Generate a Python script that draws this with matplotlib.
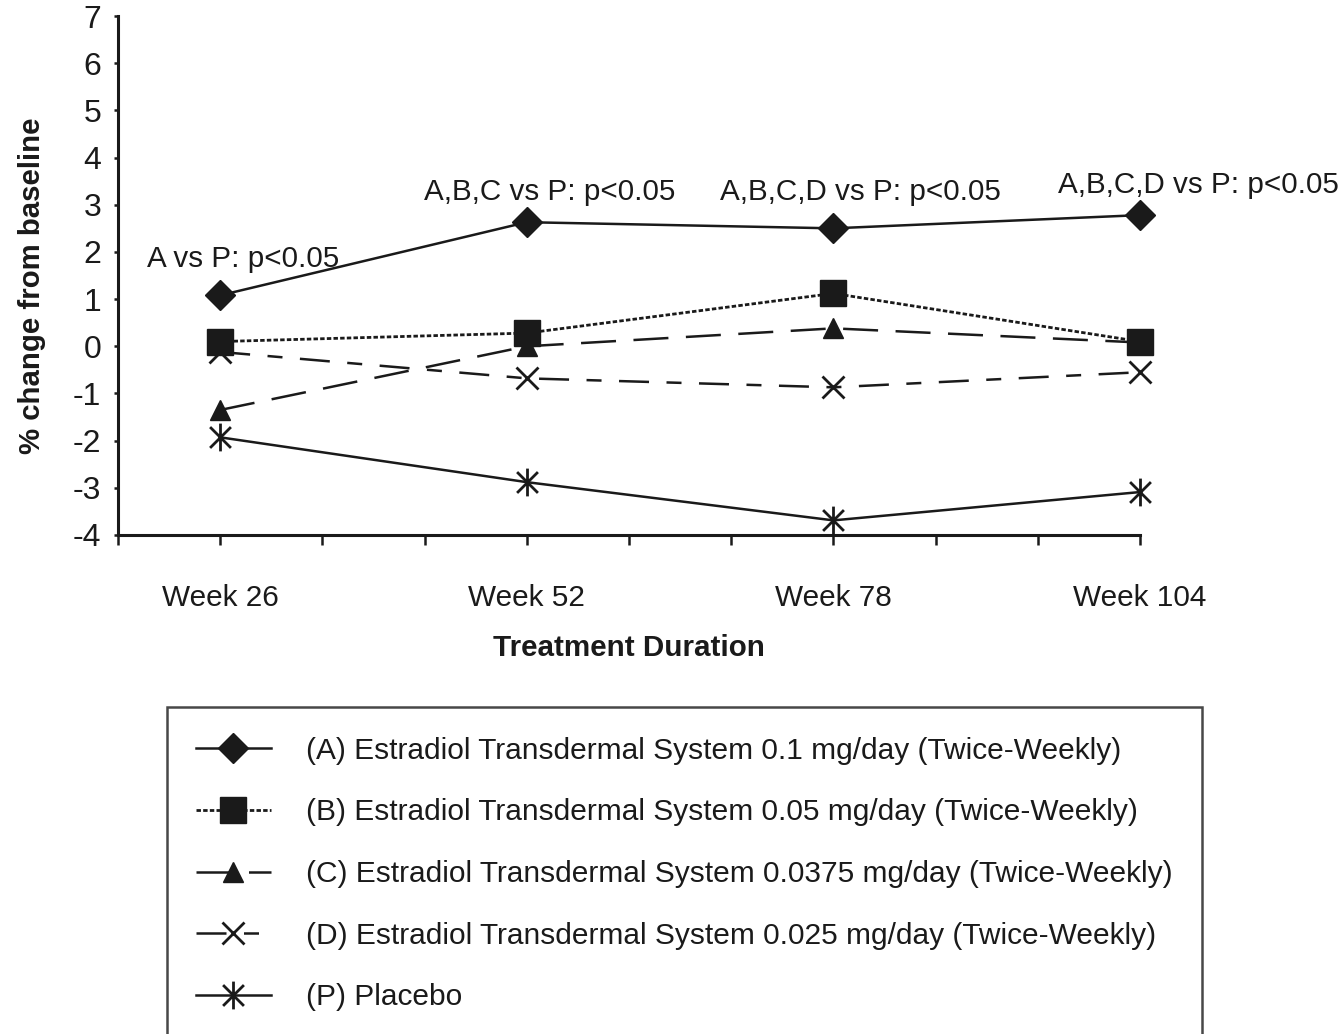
import matplotlib
matplotlib.use("Agg")
import matplotlib.pyplot as plt
from matplotlib.path import Path

plt.rcParams['font.family'] = ['Liberation Sans Narrow', 'Liberation Sans', 'DejaVu Sans']
plt.rcParams['axes.unicode_minus'] = False

# x positions on a 0..10 axis (one minor step per ~8.7 weeks)
x_pos = [1, 4, 7, 10]
week_labels = ["Week 26", "Week 52", "Week 78", "Week 104"]

a_vals = [1.08, 2.63, 2.5, 2.78]
b_vals = [0.1, 0.28, 1.12, 0.1]
c_vals = [-1.35, 0.0, 0.38, 0.08]
d_vals = [-0.12, -0.68, -0.87, -0.55]
p_vals = [-1.93, -2.88, -3.69, -3.09]

names = [
    "(A) Estradiol Transdermal System 0.1 mg/day (Twice-Weekly)",
    "(B) Estradiol Transdermal System 0.05 mg/day (Twice-Weekly)",
    "(C) Estradiol Transdermal System 0.0375 mg/day (Twice-Weekly)",
    "(D) Estradiol Transdermal System 0.025 mg/day (Twice-Weekly)",
    "(P) Placebo",
]

notes = ["A vs P: p<0.05", "A,B,C vs P: p<0.05", "A,B,C,D vs P: p<0.05", "A,B,C,D vs P: p<0.05"]
note_x = [1.22, 4.22, 7.26, 10.57]
note_y = [1.86, 3.28, 3.26, 3.41]

ink = "#1a1a1a"

# asterisk: vertical stroke plus an X
star = Path([(0, -1), (0, 1), (-0.75, -0.75), (0.75, 0.75), (-0.75, 0.75), (0.75, -0.75)],
            [Path.MOVETO, Path.LINETO] * 3)

fig = plt.figure(figsize=(13.44, 10.34), dpi=100)
ax = fig.add_axes([0.0878, 0.4826, 0.7604, 0.5019])

lp, = ax.plot(x_pos, p_vals, color=ink, lw=1.8, marker=star, ms=20, mew=2,
              clip_on=False, zorder=3)
ld, = ax.plot(x_pos, d_vals, color=ink, lw=1.8, dashes=(12, 7, 6, 7), marker="x",
              ms=16, mew=2, clip_on=False, zorder=3)
lc, = ax.plot(x_pos, c_vals, color=ink, lw=1.8, dashes=(14, 7), marker="^", ms=14,
              clip_on=False, zorder=4)
lb, = ax.plot(x_pos, b_vals, color=ink, lw=2, dashes=(1.6, 0.8), marker="s", ms=19,
              clip_on=False, zorder=5)
la, = ax.plot(x_pos, a_vals, color=ink, lw=1.8, marker="D", ms=15, clip_on=False,
              zorder=6)

for txt, tx, ty in zip(notes, note_x, note_y):
    ax.text(tx, ty, txt, ha="center", va="center", fontsize=21.3, color=ink,
            clip_on=False, zorder=7)

ax.set_xlim(0, 10)
ax.set_ylim(-4, 7)
ax.set_yticks(range(-4, 8))
ax.set_xticks(range(0, 11), minor=True)
ax.set_xticks(x_pos)
ax.set_xticklabels(week_labels)

for s in ["top", "right"]:
    ax.spines[s].set_visible(False)
for s in ["left", "bottom"]:
    ax.spines[s].set_linewidth(2.2)
    ax.spines[s].set_color(ink)

ax.tick_params(axis="y", direction="out", length=3, width=1.8, pad=9,
               labelsize=23, colors=ink)
ax.tick_params(axis="x", which="both", direction="out", length=7, width=1.8,
               colors=ink)
ax.tick_params(axis="x", which="major", pad=28, labelsize=21.4)

ax.set_ylabel("% change from baseline", fontsize=21.2, fontweight="bold", color=ink)
ax.yaxis.set_label_coords(-0.07, 0.48)
ax.set_xlabel("Treatment Duration", fontsize=21.3, fontweight="bold", color=ink)
ax.xaxis.set_label_coords(0.5, -0.19)

leg = fig.legend([la, lb, lc, ld, lp], names, loc="upper left",
                 bbox_to_anchor=(0.124, 0.316), borderaxespad=0, fontsize=21.5,
                 handlelength=2.5, handletextpad=1.2, labelspacing=1.13,
                 borderpad=0.98, fancybox=False, frameon=True)
leg.get_frame().set_edgecolor(ink)
leg.get_frame().set_linewidth(1.8)
for t in leg.get_texts():
    t.set_color(ink)

fig.savefig("out.png", dpi=100)
